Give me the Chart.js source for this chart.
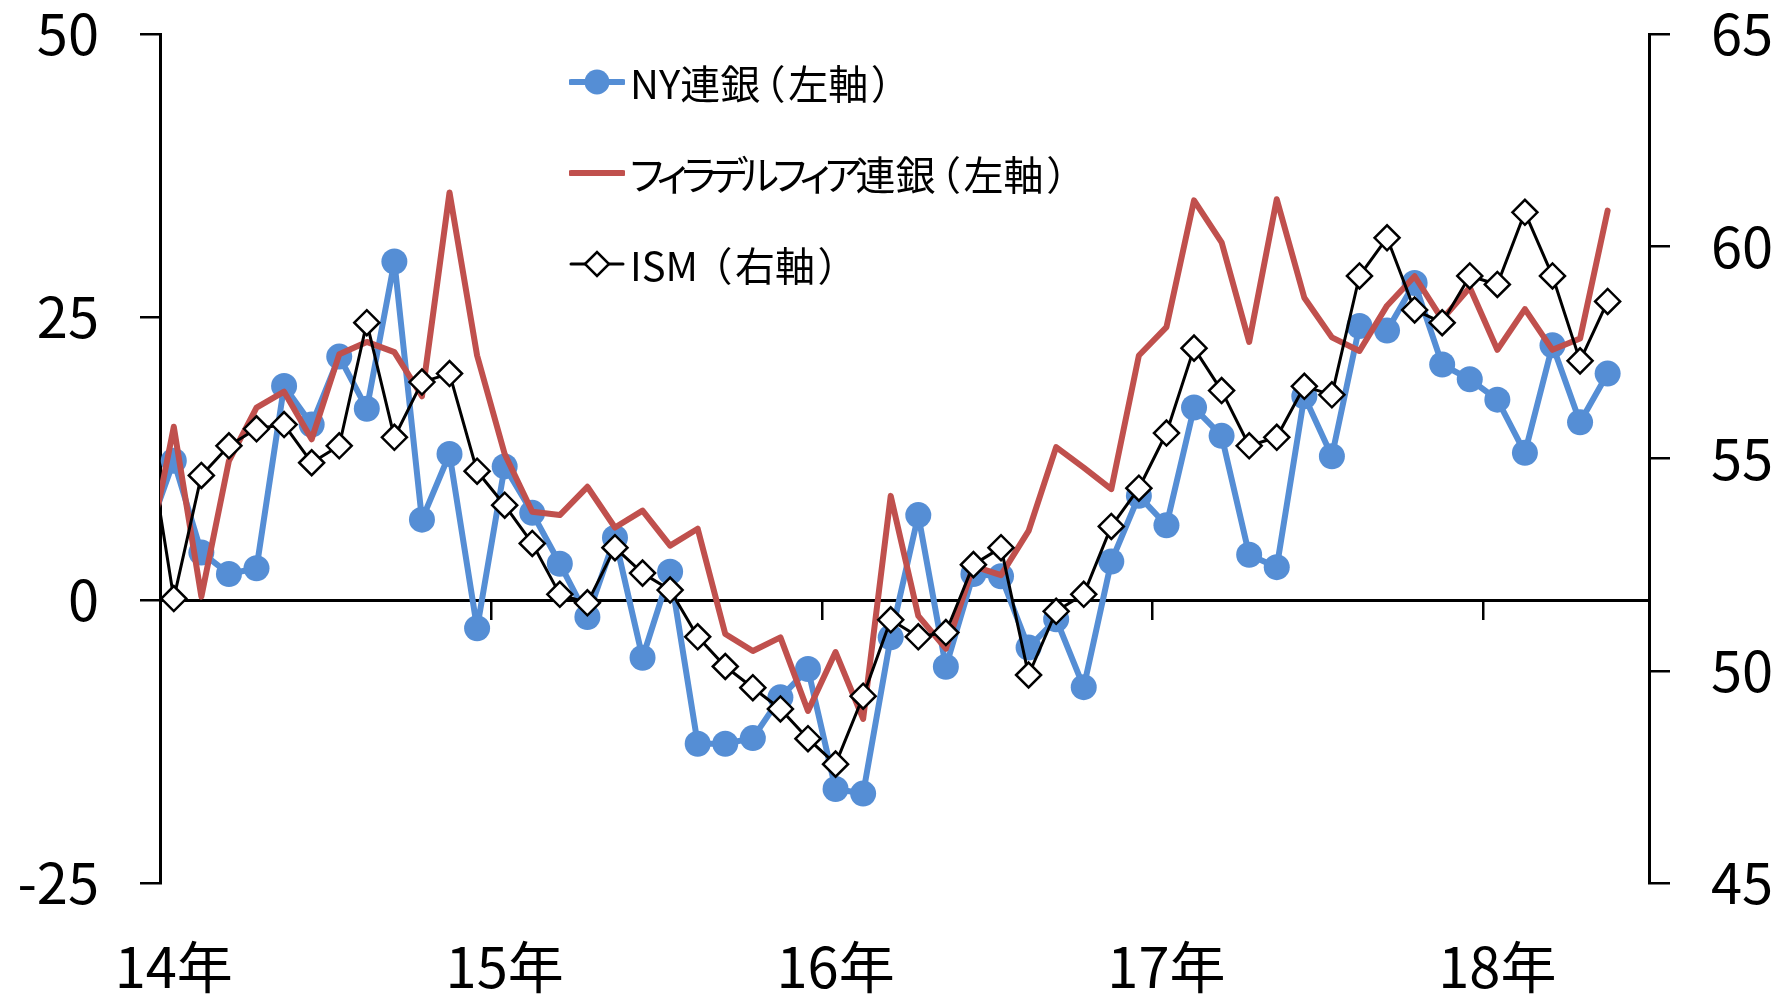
<!DOCTYPE html>
<html lang="ja">
<head>
<meta charset="utf-8">
<title>NY連銀・フィラデルフィア連銀・ISM</title>
<script src="https://cdn.jsdelivr.net/npm/chart.js@4.4.1/dist/chart.umd.min.js"></script>
<style>
  html, body { margin: 0; background: #fff; }
  #chartBox { position: relative; width: 1787px; height: 996px; }
  #legend {
    position: absolute; left: 569px; top: 57px; margin: 0; padding: 0; list-style: none;
    font-family: "Noto Sans CJK JP", sans-serif; font-size: 40px; color: #000;
    font-feature-settings: "palt";
  }
  #legend li { display: flex; align-items: center; height: 50px; margin-bottom: 41px; line-height: 1; white-space: nowrap; }
  #legend svg { flex: none; margin-right: 5px; }
  #legend .kana { letter-spacing: -6px; }
  #legend .br { padding: 0 4px; }
</style>
</head>
<body>
<div id="chartBox">
  <canvas id="surveyChart"></canvas>
  <ul id="legend"></ul>
</div>
<script>
// 月次（13年12月はプロット範囲外、線の端だけ見える）
const months = [
  '2013-12',
  '2014-01','2014-02','2014-03','2014-04','2014-05','2014-06','2014-07','2014-08','2014-09','2014-10','2014-11','2014-12',
  '2015-01','2015-02','2015-03','2015-04','2015-05','2015-06','2015-07','2015-08','2015-09','2015-10','2015-11','2015-12',
  '2016-01','2016-02','2016-03','2016-04','2016-05','2016-06','2016-07','2016-08','2016-09','2016-10','2016-11','2016-12',
  '2017-01','2017-02','2017-03','2017-04','2017-05','2017-06','2017-07','2017-08','2017-09','2017-10','2017-11','2017-12',
  '2018-01','2018-02','2018-03','2018-04','2018-05','2018-06'
];
const yearStarts = ['2014-01', '2015-01', '2016-01', '2017-01', '2018-01'];
const yearTicks = ['14年', '15年', '16年', '17年', '18年'];

const nyFed = [
  5.5,
  12.3, 4.2, 2.3, 2.8, 18.9, 15.5, 21.5, 16.9, 29.9, 7.1, 12.9, -2.5,
  11.8, 7.7, 3.2, -1.5, 5.5, -5.1, 2.5, -12.7, -12.7, -12.2, -8.6, -6.1,
  -16.7, -17.1, -3.3, 7.5, -5.9, 2.3, 2.1, -4.2, -1.7, -7.7, 3.4, 9.2,
  6.6, 17.0, 14.5, 4.0, 2.9, 18.0, 12.7, 24.2, 23.8, 28.0, 20.8, 19.5,
  17.7, 13.0, 22.5, 15.7, 20.0, null
];
const phillyFed = [
  3.0,
  15.3, 0.3, 12.3, 17.0, 18.4, 14.2, 21.7, 22.8, 21.9, 18.0, 36.0, 21.6,
  12.9, 7.8, 7.5, 10.0, 6.4, 7.9, 4.8, 6.3, -3.0, -4.5, -3.3, -9.8,
  -4.6, -10.5, 9.2, -1.4, -4.3, 3.0, 2.2, 6.1, 13.5, 11.7, 9.8, 21.6,
  24.1, 35.3, 31.6, 22.8, 35.4, 26.7, 23.2, 22.0, 26.0, 28.6, 24.8, 27.6,
  22.1, 25.7, 22.1, 23.1, 34.4, null
];
const ism = [
  55.8,
  51.7, 54.6, 55.3, 55.7, 55.8, 54.9, 55.3, 58.2, 55.5, 56.8, 57.0, 54.7,
  53.9, 53.0, 51.8, 51.6, 52.9, 52.3, 51.9, 50.8, 50.1, 49.6, 49.1, 48.4,
  47.8, 49.4, 51.2, 50.8, 50.9, 52.5, 52.9, 49.9, 51.4, 51.8, 53.4, 54.3,
  55.6, 57.6, 56.6, 55.3, 55.5, 56.7, 56.5, 59.3, 60.2, 58.5, 58.2, 59.3,
  59.1, 60.8, 59.3, 57.3, 58.7, null
];

const BLUE = '#558ED5';
const RED = '#C0504D';
const BLACK = '#000000';
const FONT = '"Noto Sans CJK JP", sans-serif';

const hideFirst = r => ctx => (ctx.dataIndex === 0 ? 0 : r);
const tickColor = ctx => (ctx.tick && yearStarts.includes(months[ctx.tick.value]) ? BLACK : 'rgba(0,0,0,0)');
// ラベルの余白がプロット領域を押し下げないように
const fixY = width => s => { s.width = width; s.paddingTop = 34; s.paddingBottom = 34; };

const chart = new Chart(document.getElementById('surveyChart'), {
  type: 'line',
  data: {
    labels: months,
    datasets: [
      {
        label: 'NY連銀（左軸）',
        data: nyFed,
        yAxisID: 'y',
        order: 3,
        borderColor: BLUE,
        borderWidth: 6,
        pointStyle: 'circle',
        pointRadius: hideFirst(13),
        pointBackgroundColor: BLUE,
        pointBorderWidth: 0,
        legendMark: 'circle'
      },
      {
        label: 'フィラデルフィア連銀（左軸）',
        data: phillyFed,
        yAxisID: 'y',
        order: 2,
        borderColor: RED,
        borderWidth: 6,
        pointRadius: 0,
        legendMark: null
      },
      {
        label: 'ISM （右軸）',
        data: ism,
        yAxisID: 'y1',
        order: 1,
        borderColor: BLACK,
        borderWidth: 3,
        pointStyle: 'rectRot',
        pointRadius: hideFirst(12.5),
        pointBackgroundColor: '#ffffff',
        pointBorderColor: BLACK,
        pointBorderWidth: 2.5,
        legendMark: 'diamond'
      }
    ]
  },
  options: {
    responsive: true,
    maintainAspectRatio: false,
    animation: false,
    events: [],
    clip: 0,
    layout: { padding: 0 },
    elements: {
      line: { tension: 0, borderJoinStyle: 'round', borderCapStyle: 'round', fill: false }
    },
    plugins: {
      legend: { display: false },
      tooltip: { enabled: false },
      title: { display: false }
    },
    scales: {
      x: {
        type: 'category',
        min: '2014-01',
        offset: true,
        border: { display: false },
        grid: { display: false, drawTicks: false },
        ticks: {
          autoSkip: false,
          maxRotation: 0,
          padding: 50,
          color: BLACK,
          font: { family: FONT, size: 56 },
          callback: function (value) {
            const k = yearStarts.indexOf(this.getLabelForValue(value));
            return k >= 0 ? yearTicks[k] : '';
          }
        },
        afterFit: s => { s.height = 113; }
      },
      x0: {
        type: 'category',
        min: '2014-01',
        offset: true,
        position: { y: 0 },
        border: { display: true, color: BLACK, width: 3 },
        grid: {
          offset: true,
          drawOnChartArea: false,
          drawTicks: true,
          tickLength: 18,
          lineWidth: 2.5,
          color: tickColor
        },
        ticks: { display: false, autoSkip: false }
      },
      y: {
        position: 'left',
        min: -25,
        max: 50,
        border: { display: true, color: BLACK, width: 3 },
        grid: { drawOnChartArea: false, tickLength: 20, lineWidth: 2.5, color: BLACK },
        ticks: { stepSize: 25, padding: 41, color: BLACK, font: { family: FONT, size: 56 } },
        afterFit: fixY(160)
      },
      y1: {
        position: 'right',
        min: 45,
        max: 65,
        border: { display: true, color: BLACK, width: 3 },
        grid: { drawOnChartArea: false, tickLength: 21, lineWidth: 2.5, color: BLACK },
        ticks: { stepSize: 5, padding: 41, color: BLACK, font: { family: FONT, size: 56 } },
        afterFit: fixY(138)
      }
    }
  }
});

// 凡例（Excel風に線＋マーカー）
function legendSymbol(ds) {
  const w = 56, h = 30, c = h / 2;
  let mark = '';
  if (ds.legendMark === 'circle') {
    mark = `<circle cx="${w / 2}" cy="${c}" r="12.5" fill="${ds.borderColor}"/>`;
  } else if (ds.legendMark === 'diamond') {
    mark = `<polygon points="${w / 2 - 12},${c} ${w / 2},${c - 12} ${w / 2 + 12},${c} ${w / 2},${c + 12}" fill="#fff" stroke="${ds.borderColor}" stroke-width="2.5"/>`;
  }
  return `<svg width="${w}" height="${h}" viewBox="0 0 ${w} ${h}">` +
    `<line x1="2" y1="${c}" x2="${w - 2}" y2="${c}" stroke="${ds.borderColor}" stroke-width="${ds.borderWidth}" stroke-linecap="round"/>` +
    mark + '</svg>';
}

const legendEl = document.getElementById('legend');
chart.data.datasets.forEach(ds => {
  const li = document.createElement('li');
  li.innerHTML = legendSymbol(ds);
  const span = document.createElement('span');
  // カタカナは詰め気味、括弧は少し広めに
  ds.label.split(/([ァ-ヶー]+|[（）])/).forEach(part => {
    if (!part) return;
    let cls = null;
    if (/^[ァ-ヶー]+$/.test(part)) cls = 'kana';
    else if (part === '（' || part === '）') cls = 'br';
    if (cls) {
      const el = document.createElement('span');
      el.className = cls;
      el.textContent = part;
      span.appendChild(el);
    } else {
      span.appendChild(document.createTextNode(part));
    }
  });
  li.appendChild(span);
  legendEl.appendChild(li);
});
</script>
</body>
</html>
